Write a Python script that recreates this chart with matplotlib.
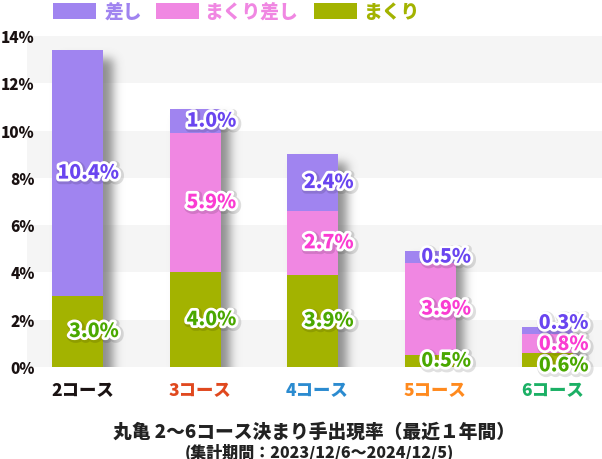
import numpy as np
import matplotlib
matplotlib.use('Agg')
import matplotlib.pyplot as plt
import matplotlib.patheffects as pe
from matplotlib.patches import Rectangle

plt.rcParams['font.family'] = ['Noto Sans CJK JP', 'DejaVu Sans']

# data (%)
courses = ['2コース', '3コース', '4コース', '5コース', '6コース']
course_colors = ['#1a1212', '#e0481e', '#2b8bd0', '#ff8a1e', '#1bb065']
makuri = [3.0, 4.0, 3.9, 0.5, 0.6]
makurizashi = [0.0, 5.9, 2.7, 3.9, 0.8]
sashi = [10.4, 1.0, 2.4, 0.5, 0.3]
series_names = ['まくり', 'まくり差し', '差し']  # bottom -> top
legend_order = ['差し', 'まくり差し', 'まくり']
bar_colors = {'差し': '#a084f0', 'まくり差し': '#f087e2', 'まくり': '#a3b300'}
text_colors = {'差し': '#6a45f0', 'まくり差し': '#fa3cd2', 'まくり': '#4aa800'}
yticks = [0, 2, 4, 6, 8, 10, 12, 14]
title = '丸亀 2〜6コース決まり手出現率（最近１年間）'
subtitle = '(集計期間：2023/12/6〜2024/12/5)'

values = {'まくり': makuri, 'まくり差し': makurizashi, '差し': sashi}
x = np.arange(len(courses))
w = 0.434
x0, x1 = -0.434, 4.463
ymax = 14

fig = plt.figure(figsize=(6.02, 4.6), dpi=100)
ax = fig.add_axes([27/602, 92/460, 575/602, 331/460])

# background bands
for lo in range(0, ymax, 4):
    ax.axhspan(lo, lo + 2, color='#f5f5f5', lw=0, zorder=0)

# blurred drop shadow behind bars
totals = np.array(makuri) + np.array(makurizashi) + np.array(sashi)
nx, ny = 575, 400
ylo = -2.0
xs = np.linspace(x0, x1, nx)
ys = np.linspace(ylo, ymax, ny)
px = (x1 - x0) / nx
py = ymax / 331
mask = np.zeros((ny, nx))
for i, t in enumerate(totals):
    inx = (xs >= i - w/2 + 9*px) & (xs <= i + w/2 + 9*px)
    iny = ys <= t - 8*py
    mask[np.ix_(iny, inx)] = 1.0
sig = 5.0
k = np.exp(-0.5 * (np.arange(-16, 17) / sig) ** 2)
k /= k.sum()
mask = np.apply_along_axis(lambda r: np.convolve(r, k, mode='same'), 1, mask)
mask = np.apply_along_axis(lambda c: np.convolve(c, k, mode='same'), 0, mask)
rgba = np.zeros((ny, nx, 4))
rgba[..., :3] = 0.42
rgba[..., 3] = mask * 0.75
ax.imshow(rgba, extent=[x0, x1, ylo, ymax], origin='lower', aspect='auto',
          zorder=1, interpolation='bilinear')

# stacked bars
bottom = np.zeros(len(courses))
mids = [[] for _ in courses]
for name in series_names:
    v = np.array(values[name])
    ax.bar(x, v, bottom=bottom, width=w, color=bar_colors[name], lw=0, zorder=2)
    for i in range(len(courses)):
        if v[i] > 0:
            mids[i].append([bottom[i] + v[i] / 2, v[i], name])
    bottom += v

# value labels, pushed apart when too close
gap = 0.9
effects = [pe.Stroke(linewidth=6, foreground=(0, 0, 0, 0.12), offset=(1, -1)),
           pe.Stroke(linewidth=4, foreground='white'), pe.Normal()]
for i, labs in enumerate(mids):
    for _ in range(50):
        for j in range(len(labs) - 1):
            d = labs[j + 1][0] - labs[j][0]
            if d < gap:
                s = (gap - d) / 2
                labs[j][0] -= s
                labs[j + 1][0] += s
    for yv, v, name in labs:
        ax.text(i + w/2 + 0.13, yv, f'{v:.1f}%', ha='right', va='center',
                fontsize=14, fontweight='heavy', color=text_colors[name],
                path_effects=effects, zorder=5)

ax.set_xlim(x0, x1)
ax.set_ylim(0, ymax)
for s in ax.spines.values():
    s.set_visible(False)

ax.set_yticks(yticks, [f'{v}%' for v in yticks])
ax.tick_params(axis='y', length=0, pad=-5.5, labelsize=11)
for t in ax.get_yticklabels():
    t.set_fontweight('heavy')
    t.set_color('#1a1212')

ax.set_xticks(x + 0.04, courses)
ax.tick_params(axis='x', length=0, pad=10, labelsize=12.5)
for t, c in zip(ax.get_xticklabels(), course_colors):
    t.set_fontweight('heavy')
    t.set_color(c)

# legend
patch_x = [53, 156, 314]
text_x = [105, 204, 363]
for name, pxl, tx in zip(legend_order, patch_x, text_x):
    fig.add_artist(Rectangle((pxl/602, 1 - 20/460), 43/602, 16/460,
                             transform=fig.transFigure, color=bar_colors[name], lw=0))
    fig.text(tx/602, 1 - 12/460, name, ha='left', va='center', fontsize=13.5,
             fontweight='heavy', color=bar_colors[name])

fig.text(314/602, 1 - 432/460, title, ha='center', va='center', fontsize=13.5,
         fontweight='heavy', color='#222222')
fig.text(319/602, 1 - 452/460, subtitle, ha='center', va='center', fontsize=11.5,
         fontweight='heavy', color='#222222')

fig.savefig('out.png', dpi=100)
